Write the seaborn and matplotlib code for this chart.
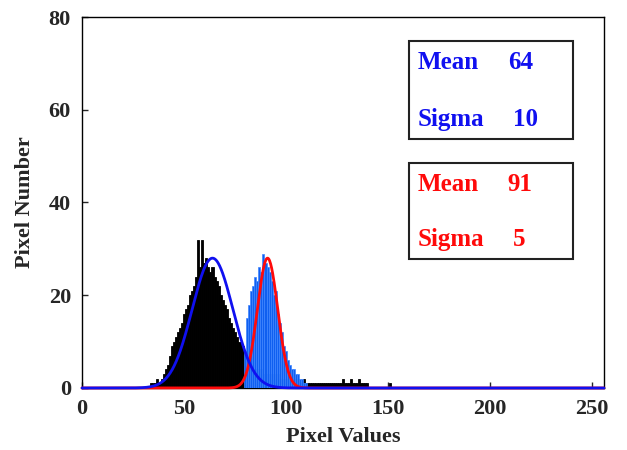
import numpy as np
import pandas as pd
import matplotlib
matplotlib.use("Agg")
import matplotlib.pyplot as plt
from matplotlib.patches import Rectangle
import seaborn as sns

# Histogram of the whole region (pixel value -> number of pixels)
black_values = list(range(34, 152))
black_counts = [
    1, 1, 1, 2, 1, 2, 3, 4, 5, 7,
    9, 10, 11, 12, 13, 14, 16, 17, 18, 20,
    21, 22, 24, 32, 26, 32, 27, 28, 26, 25,
    26, 24, 23, 22, 20, 19, 18, 17, 15, 14,
    13, 12, 11, 10, 10, 9, 8, 6, 5, 5,
    4, 4, 4, 3, 4, 3, 3, 3, 3, 3,
    3, 2, 3, 2, 2, 2, 2, 2, 2, 2,
    2, 1, 2, 1, 1, 2, 1, 1, 1, 1,
    1, 1, 1, 1, 1, 1, 1, 1, 1, 1,
    1, 1, 1, 1, 2, 1, 1, 1, 2, 1,
    1, 1, 2, 1, 1, 1, 1, 0, 0, 0,
    0, 0, 0, 0, 0, 0, 0, 1,
]

# Histogram of the bright sub-region
blue_values = list(range(80, 111))
blue_counts = [
    8, 15, 18, 21, 22, 24, 23, 26, 25, 29,
    27, 26, 25, 23, 20, 21, 16, 14, 12, 9,
    8, 6, 5, 4, 4, 3, 3, 2, 2, 1, 1,
]

# Gaussian fits shown in the boxes
fit_means = [64, 91]
fit_sigmas = [10, 5]
fit_peaks = [28, 28]
fit_colors = ["#1010f0", "#ff0a0a"]

x_ticks = [0, 50, 100, 150, 200, 250]
y_ticks = [0, 20, 40, 60, 80]

sns.set_style("white")
plt.rcParams["font.family"] = ["Liberation Serif", "DejaVu Serif"]
plt.rcParams["font.weight"] = "bold"

fig = plt.figure(figsize=(6.27, 4.5), dpi=100)
ax = fig.add_axes([0.1308, 0.1378, 0.8325, 0.8244])

sns.histplot(x=np.array(black_values, dtype=float),
             weights=np.array(black_counts, dtype=float),
             binwidth=1, binrange=(-0.5, 255.5),
             color="black", alpha=1, edgecolor="black", linewidth=0.6,
             ax=ax, zorder=2)
sns.histplot(x=np.array(blue_values, dtype=float),
             weights=np.array(blue_counts, dtype=float),
             binwidth=1, binrange=(-0.5, 255.5),
             color="#0f5ff0", alpha=1, edgecolor="#3f85ff", linewidth=0.5,
             ax=ax, zorder=3)

# fitted curves, red first so the blue one sits on top along the baseline
xs = np.linspace(0, 256, 1025)
for idx in [1, 0]:
    ys = fit_peaks[idx] * np.exp(-0.5 * ((xs - fit_means[idx]) / fit_sigmas[idx]) ** 2)
    sns.lineplot(x=xs, y=ys, color=fit_colors[idx], linewidth=2.0,
                 ax=ax, zorder=4 + (1 - idx), clip_on=False)

ax.set_xlim(0, 256)
ax.set_ylim(0, 80)
ax.set_xticks(x_ticks)
ax.set_yticks(y_ticks)
ax.tick_params(direction="in", length=4, width=1, labelsize=16,
               bottom=True, left=True, top=False, right=False)
ax.tick_params(axis="x", pad=8)
ax.tick_params(axis="y", pad=8)
for lab in ax.get_xticklabels() + ax.get_yticklabels():
    lab.set_fontweight("bold")
for sp in ax.spines.values():
    sp.set_color("black")
    sp.set_linewidth(1.0)

ax.set_xlabel("Pixel Values", fontsize=16, fontweight="bold", labelpad=6)
ax.set_ylabel("Pixel Number", fontsize=16, fontweight="bold", labelpad=10)

# statistics boxes
box_bottoms = [53.7, 27.8]
box_tops = [74.8, 48.5]
for idx in range(2):
    ax.add_patch(Rectangle((160.3, box_bottoms[idx]), 80.4,
                           box_tops[idx] - box_bottoms[idx],
                           facecolor="white", edgecolor="#222222",
                           linewidth=1.5, zorder=6))
    y_mean = box_tops[idx] - 4.6
    y_sig = box_bottoms[idx] + 4.3
    col = fit_colors[idx]
    ax.text(164.7, y_mean, "Mean", color=col, fontsize=18, fontweight="bold",
            va="center", ha="left", zorder=7)
    ax.text(208.8, y_mean, f"{fit_means[idx]}", color=col, fontsize=18,
            fontweight="bold", va="center", ha="left", zorder=7)
    ax.text(164.7, y_sig, "Sigma", color=col, fontsize=18, fontweight="bold",
            va="center", ha="left", zorder=7)
    ax.text(211.5, y_sig, f"{fit_sigmas[idx]}", color=col, fontsize=18,
            fontweight="bold", va="center", ha="left", zorder=7)

fig.savefig("out.png", dpi=100)
